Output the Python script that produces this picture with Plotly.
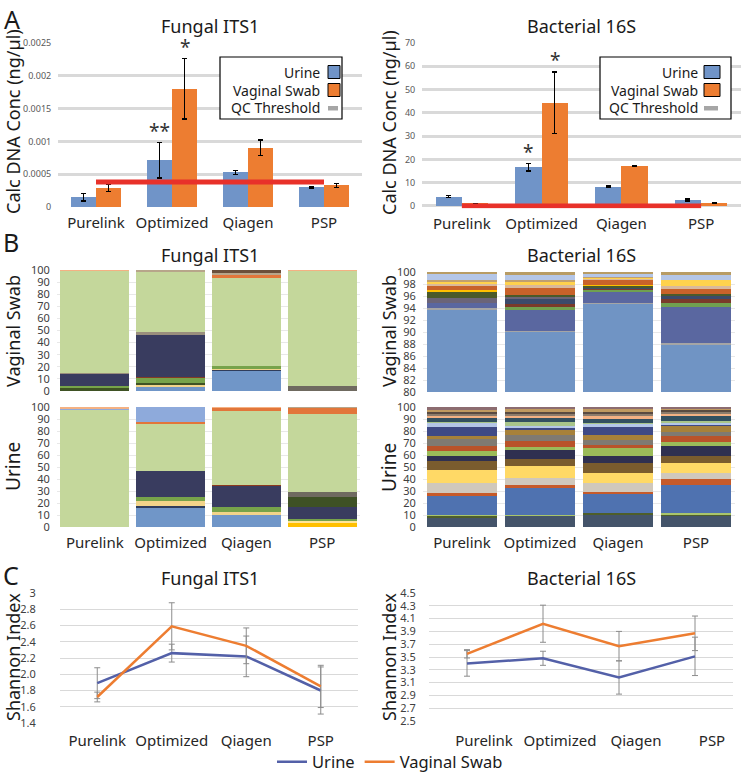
import plotly.graph_objects as go

# ==========================================
# CONFIG
# ==========================================
W, H = 741, 776
FONT = "Noto Sans"
BLUE = "#7094c8"
ORANGE = "#ed7d31"
RED = "#e8312a"
LINE_URINE = "#5360a8"

# ==========================================
# DATA
# ==========================================
METHODS = ["Purelink", "Optimized", "Qiagen", "PSP"]

# A - DNA concentration (ng/ul)
fungal_urine = [0.00015, 0.00071, 0.00053, 0.00030]
fungal_urine_err = [0.00006, 0.00027, 0.00003, 0.00001]
fungal_swab = [0.00029, 0.00180, 0.00090, 0.00033]
fungal_swab_err = [0.00005, 0.00046, 0.00012, 0.00003]
fungal_qc = 0.00038
fungal_sig_urine = ["", "**", "", ""]
fungal_sig_swab = ["", "*", "", ""]

bact_urine = [4.0, 16.6, 8.3, 2.6]
bact_urine_err = [0.4, 1.6, 0.3, 0.4]
bact_swab = [1.1, 44.4, 17.1, 1.4]
bact_swab_err = [0.1, 13.2, 0.15, 0.2]
bact_qc = 0.0
bact_sig_urine = ["", "*", "", ""]
bact_sig_swab = ["", "*", "", ""]

# B - relative abundance (%), one row per taxon, bottom -> top
fungal_taxa_colors = [
    "#ffc000", "#ffe699", "#7096c8", "#2f3d5c", "#f2d48a", "#3f5224",
    "#77a34a", "#843c24", "#393c5f", "#8b3a1e", "#3e5125", "#6f6a60",
    "#9a8f7d", "#c4d79b", "#e2763a", "#b7a58a", "#6b4f3a", "#8eaadb",
    "#f4b183",
]
fungal_swab_taxa = [
    [0, 0, 0, 0],
    [0, 0, 0, 0],
    [0, 4.0, 17.0, 0],
    [0, 0, 1.0, 0],
    [0, 0.6, 1.0, 0],
    [2.5, 2.4, 0, 0],
    [1.5, 4.0, 1.5, 0],
    [0, 0.6, 0, 0],
    [10.5, 34.9, 0, 0],
    [0, 0, 0, 0],
    [0, 0, 0, 0],
    [0, 0, 0, 4.5],
    [0.6, 2.0, 0, 0],
    [84.4, 49.5, 73.0, 95.0],
    [0, 0, 2.2, 0],
    [0, 2.0, 1.8, 0],
    [0, 0, 2.5, 0],
    [0, 0, 0, 0],
    [0.5, 0, 0, 0.5],
]
fungal_urine_taxa = [
    [0, 0, 0, 3.0],
    [0, 0, 0, 2.3],
    [0, 15.6, 10.3, 0],
    [0, 1.9, 0, 0],
    [0, 4.2, 2.0, 0],
    [0, 0, 0, 0],
    [0, 3.6, 4.1, 1.4],
    [0, 0, 0, 0],
    [0, 21.4, 17.8, 9.7],
    [0, 0, 0.8, 0],
    [0, 0, 0, 8.3],
    [0, 0, 0, 4.7],
    [0, 0, 0, 0],
    [98.0, 39.1, 61.7, 64.5],
    [0, 1.7, 3.0, 5.5],
    [0, 0, 0, 0.6],
    [0, 0, 0, 0],
    [1.0, 12.5, 0, 0],
    [1.0, 0, 0.3, 0],
]

bact_swab_colors = [
    "#7094c4", "#a5a5a5", "#5a67a0", "#70a050", "#7a3a2a", "#3b4a6b",
    "#6b6478", "#4a5a2a", "#ffc000", "#c8622a", "#d9b99b", "#ffd24d",
    "#c0a070", "#b4c6e7", "#b89c64",
]
bact_swab_taxa = [
    [93.8, 90.0, 94.8, 87.9],
    [0.2, 0.25, 0.1, 0.2],
    [0.9, 3.45, 1.8, 6.1],
    [0, 0.4, 0.3, 0.7],
    [0, 0.6, 0.2, 0.6],
    [0, 0.9, 0.2, 0.5],
    [0.7, 0.2, 0, 0],
    [1.0, 0.4, 0.4, 0.4],
    [0.45, 0, 0.1, 0],
    [0.65, 1.1, 0.8, 0.9],
    [0.3, 0.5, 0.2, 0.3],
    [0.3, 0.6, 0.2, 1.1],
    [0.4, 0.2, 0.1, 0],
    [1.0, 0.9, 0.6, 0.8],
    [0.3, 0.5, 0.2, 0.5],
]

bact_urine_colors = [
    "#44546a", "#4e5e2a", "#a9c56b", "#4f72b0", "#c65a2a", "#d0c8bc",
    "#ffd966", "#7a5c2e", "#2f3050", "#9bbb59", "#b9532a", "#7f7a72",
    "#a7813a", "#3f4a85", "#b4c6e7", "#a9c58a", "#335060", "#f4b183",
    "#8c7c6c", "#5a4a40", "#c09a60", "#8c6c70",
]
bact_urine_taxa = [
    [7.2, 9.2, 10.8, 9.2],
    [2.5, 0.5, 0.6, 1.4],
    [0.5, 0.3, 0, 1.4],
    [15.6, 22.2, 16.6, 23.0],
    [2.8, 2.8, 1.2, 4.7],
    [7.8, 5.5, 7.2, 5.0],
    [11.1, 10.3, 8.9, 8.9],
    [7.5, 5.6, 7.7, 5.6],
    [4.2, 7.8, 6.2, 8.6],
    [4.1, 2.8, 6.4, 3.3],
    [4.2, 5.0, 2.7, 4.7],
    [5.5, 4.7, 4.2, 3.6],
    [2.8, 4.7, 4.2, 5.0],
    [7.8, 1.6, 6.9, 0.9],
    [3.3, 1.2, 2.8, 1.0],
    [1.0, 3.6, 0.5, 2.3],
    [3.5, 3.0, 3.7, 4.2],
    [1.5, 1.7, 1.5, 1.9],
    [2.0, 2.0, 2.4, 1.3],
    [1.5, 2.0, 2.0, 1.5],
    [1.2, 1.5, 1.5, 0.5],
    [2.4, 2.0, 2.0, 2.0],
]

# C - Shannon index
shannon_fungal_urine = [1.89, 2.26, 2.22, 1.80]
shannon_fungal_urine_err = [0.19, 0.11, 0.25, 0.29]
shannon_fungal_swab = [1.72, 2.59, 2.35, 1.85]
shannon_fungal_swab_err = [0.06, 0.29, 0.22, 0.26]
shannon_bact_urine = [3.40, 3.48, 3.18, 3.51]
shannon_bact_urine_err = [0.20, 0.11, 0.26, 0.30]
shannon_bact_swab = [3.55, 4.02, 3.67, 3.87]
shannon_bact_swab_err = [0.065, 0.29, 0.23, 0.27]


# ==========================================
# HELPERS (pixel -> paper)
# ==========================================
def px_x(p):
    return p / W


def px_y(p):
    return 1 - p / H


def dom_x(a, b):
    return [a / W, b / W]


def dom_y(top, bottom):
    return [1 - bottom / H, 1 - top / H]


fig = go.Figure()
idx = list(range(len(METHODS)))
BW = 0.33

# ------------------------------------------
# A. concentration bars
# ------------------------------------------
panel_a = [
    ("x", "y", fungal_urine, fungal_urine_err, fungal_swab, fungal_swab_err, fungal_qc,
     fungal_sig_urine, fungal_sig_swab),
    ("x2", "y2", bact_urine, bact_urine_err, bact_swab, bact_swab_err, bact_qc,
     bact_sig_urine, bact_sig_swab),
]
annotations = []
for xa, ya, u, ue, s, se, qc, sig_u, sig_s in panel_a:
    xu = [i - BW / 2 for i in idx]
    xs = [i + BW / 2 for i in idx]
    fig.add_trace(go.Bar(
        x=xu, y=u, width=BW, marker=dict(color=BLUE, line=dict(width=0)),
        error_y=dict(type="data", array=ue, color="black", thickness=1.3, width=2.5),
        xaxis=xa, yaxis=ya, showlegend=False, name="Urine"))
    fig.add_trace(go.Bar(
        x=xs, y=s, width=BW, marker=dict(color=ORANGE, line=dict(width=0)),
        error_y=dict(type="data", array=se, color="black", thickness=1.3, width=2.5),
        xaxis=xa, yaxis=ya, showlegend=False, name="Vaginal Swab"))
    fig.add_trace(go.Scatter(
        x=idx, y=[qc] * len(idx), mode="lines", line=dict(color=RED, width=5),
        xaxis=xa, yaxis=ya, showlegend=False, name="QC Threshold"))
    for xv, yv, ev, t in list(zip(xu, u, ue, sig_u)) + list(zip(xs, s, se, sig_s)):
        if t:
            annotations.append(dict(
                x=xv, y=yv + ev, xref=xa, yref=ya, text=t, showarrow=False,
                yanchor="bottom", yshift=-3, font=dict(size=19, color="#333333")))

# ------------------------------------------
# B. stacked composition bars
# ------------------------------------------
panel_b = [
    ("x3", "y3", fungal_swab_taxa, fungal_taxa_colors),
    ("x4", "y4", fungal_urine_taxa, fungal_taxa_colors),
    ("x5", "y5", bact_swab_taxa, bact_swab_colors),
    ("x6", "y6", bact_urine_taxa, bact_urine_colors),
]
for xa, ya, taxa, colors in panel_b:
    for k, vals in enumerate(taxa):
        fig.add_trace(go.Bar(
            x=METHODS, y=vals, width=0.91,
            marker=dict(color=colors[k], line=dict(width=0)),
            xaxis=xa, yaxis=ya, showlegend=False, hoverinfo="y"))

# ------------------------------------------
# C. Shannon index lines
# ------------------------------------------
panel_c = [
    ("x7", "y7", shannon_fungal_urine, shannon_fungal_urine_err,
     shannon_fungal_swab, shannon_fungal_swab_err, True),
    ("x8", "y8", shannon_bact_urine, shannon_bact_urine_err,
     shannon_bact_swab, shannon_bact_swab_err, False),
]
for xa, ya, u, ue, s, se, leg in panel_c:
    fig.add_trace(go.Scatter(
        x=METHODS, y=u, mode="lines", name="Urine", line=dict(color=LINE_URINE, width=2.5),
        error_y=dict(type="data", array=ue, color="#8c8c8c", thickness=1, width=3),
        xaxis=xa, yaxis=ya, showlegend=leg))
    fig.add_trace(go.Scatter(
        x=METHODS, y=s, mode="lines", name="Vaginal Swab", line=dict(color=ORANGE, width=2.5),
        error_y=dict(type="data", array=se, color="#8c8c8c", thickness=1, width=3),
        xaxis=xa, yaxis=ya, showlegend=leg))

# ==========================================
# AXES
# ==========================================
NOTICK = "rgba(0,0,0,0)"


def xcat(domain, anchor, show=True, shift=0, size=15, tl=2):
    return dict(domain=domain, anchor=anchor, range=[-0.5, 3.5], showgrid=False, zeroline=False,
                showline=False, showticklabels=show, ticks="outside", ticklen=tl, tickcolor=NOTICK,
                ticklabelshift=shift, tickfont=dict(size=size, color="#262626"), fixedrange=True)


def xnum(domain, anchor):
    return dict(domain=domain, anchor=anchor, range=[-0.5, 3.5], tickvals=idx, ticktext=METHODS,
                showgrid=False, zeroline=False, showline=False, ticks="outside", ticklen=2,
                tickcolor=NOTICK, tickfont=dict(size=15, color="#262626"))


def yax(domain, anchor, rng, tv, tt, size, color, grid, gw, standoff):
    return dict(domain=domain, anchor=anchor, range=rng, tickvals=tv, ticktext=tt,
                showgrid=True, gridcolor=grid, gridwidth=gw, zeroline=False, showline=False,
                ticks="outside", ticklen=standoff, tickcolor=NOTICK,
                tickfont=dict(size=size, color=color))


f_tv = [0, 0.0005, 0.001, 0.0015, 0.002, 0.0025]
f_tt = ["0", "0.0005", "0.001", "0.0015", "0.002", "0.0025"]
b_tv = list(range(0, 71, 10))
pct = list(range(0, 101, 10))
pct_top = list(range(80, 101, 2))
sf_tv = [1.4, 1.6, 1.8, 2.0, 2.2, 2.4, 2.6, 2.8, 3.0]
sf_tt = ["1.4", "1.6", "1.8", "2.0", "2.2", "2.4", "2.6", "2.8", "3"]
sb_tv = [2.5, 2.7, 2.9, 3.1, 3.3, 3.5, 3.7, 3.9, 4.1, 4.3, 4.5]
sb_tt = [f"{v:.1f}" for v in sb_tv]

fig.update_layout(
    xaxis=xnum(dom_x(58, 362), "y"),
    yaxis=yax(dom_y(43, 207), "x", [0, 0.0025], f_tv, f_tt, 9, "#595959", "#d9d9d9", 2.5, 4),
    xaxis2=xnum(dom_x(422, 741), "y2"),
    yaxis2=yax(dom_y(43, 208.3), "x2", [-1, 70], b_tv, [str(v) for v in b_tv], 9, "#595959",
               "#d9d9d9", 2.5, 4),
    xaxis3=xcat(dom_x(57, 360), "y3", show=False),
    yaxis3=yax(dom_y(270, 391), "x3", [0, 100], pct, [str(v) for v in pct], 11, "#404040",
               "#e8e8e8", 1, 4),
    xaxis4=xcat(dom_x(57, 360), "y4"),
    yaxis4=yax(dom_y(407, 527), "x4", [0, 100], pct, [str(v) for v in pct], 11, "#404040",
               "#e8e8e8", 1, 4),
    xaxis5=xcat(dom_x(423, 735), "y5", show=False),
    yaxis5=yax(dom_y(272, 392), "x5", [80, 100], pct_top, [str(v) for v in pct_top], 11,
               "#404040", "#e8e8e8", 1, 4),
    xaxis6=xcat(dom_x(423, 735), "y6"),
    yaxis6=yax(dom_y(407, 527), "x6", [0, 100], pct, [str(v) for v in pct], 11, "#404040",
               "#e8e8e8", 1, 4),
    xaxis7=xcat(dom_x(60, 358), "y7", tl=4),
    yaxis7=yax(dom_y(593, 723), "x7", [1.4, 3.0], sf_tv, sf_tt, 11, "#404040", "#d9d9d9", 1, 21),
    xaxis8=xcat(dom_x(429, 733), "y8", shift=17, tl=6),
    yaxis8=yax(dom_y(593, 721), "x8", [2.5, 4.5], sb_tv, sb_tt, 11, "#404040", "#d9d9d9", 1, 10),
)

# ==========================================
# TEXT: titles, panel letters, axis titles
# ==========================================
def label(text, xp, yp, size, angle=0, xanchor="center"):
    annotations.append(dict(
        x=px_x(xp), y=px_y(yp), xref="paper", yref="paper", text=text, showarrow=False,
        xanchor=xanchor, yanchor="middle", textangle=angle,
        font=dict(size=size, color="#1a1a1a")))


for yp in (26, 255, 578):
    label("Fungal ITS1", 210, yp, 18)
    label("Bacterial 16S", 581, yp, 18)

label("A", 2, 19, 25, xanchor="left")
label("B", 1, 242, 25, xanchor="left")
label("C", 1, 575, 25, xanchor="left")

for xp in (13, 389):
    label("Calc DNA Conc (ng/µl)", xp, 122, 18, angle=-90)
    label("Vaginal Swab", xp, 331, 18, angle=-90)
    label("Urine", xp, 467, 19, angle=-90)
    label("Shannon Index", xp, 657, 18, angle=-90)

# ------------------------------------------
# A legends (text left, swatch right)
# ------------------------------------------
shapes = []
for bx0, bx1, tx, sx0, sx1 in [(220, 342, 322, 328, 340), (600, 731, 700, 704, 720)]:
    shapes.append(dict(type="rect", xref="paper", yref="paper", x0=px_x(bx0), x1=px_x(bx1),
                       y0=px_y(119), y1=px_y(57), line=dict(color="black", width=1.2),
                       fillcolor="white", layer="above"))
    for name, color, yc in [("Urine", BLUE, 72), ("Vaginal Swab", ORANGE, 90)]:
        label(name, tx, yc, 14, xanchor="right")
        shapes.append(dict(type="rect", xref="paper", yref="paper", x0=px_x(sx0), x1=px_x(sx1),
                           y0=px_y(yc + 6.5), y1=px_y(yc - 6.5),
                           line=dict(color="black", width=1), fillcolor=color, layer="above"))
    label("QC Threshold", tx, 108, 14, xanchor="right")
    shapes.append(dict(type="rect", xref="paper", yref="paper", x0=px_x(sx0), x1=px_x(sx1 - 2),
                       y0=px_y(110.5), y1=px_y(106), line=dict(width=0), fillcolor="#a6a6a6",
                       layer="above"))

# ==========================================
# LAYOUT & SAVE
# ==========================================
fig.update_layout(
    width=W, height=H,
    margin=dict(l=0, r=0, t=0, b=0, autoexpand=False),
    barmode="stack",
    paper_bgcolor="white", plot_bgcolor="white",
    font=dict(family=FONT, color="#1a1a1a"),
    annotations=annotations,
    shapes=shapes,
    showlegend=True,
    legend=dict(orientation="h", x=px_x(272), xanchor="left", y=px_y(762), yanchor="middle",
                traceorder="normal", font=dict(size=16.5, color="#1a1a1a"), itemwidth=30,
                bgcolor="rgba(0,0,0,0)"),
)

# page body margin would push the 741x776 figure off the window
fig.write_html("out.html", config={"displayModeBar": False},
               post_script="document.body.style.margin='0';")
